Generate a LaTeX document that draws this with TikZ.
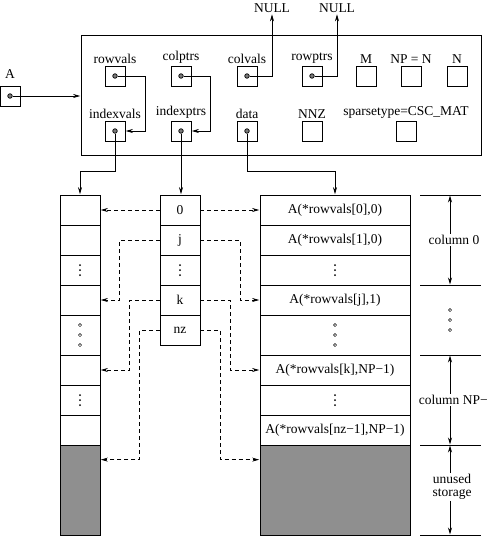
\documentclass[tikz,border=0pt]{standalone}
\usepackage{fontspec}
\setmainfont{Liberation Serif}
\usetikzlibrary{arrows.meta,positioning}
\definecolor{unusedgray}{HTML}{8F8F8F}
\definecolor{dotgray}{HTML}{7A7A7A}

\tikzset{
  txt/.style={font=\fontsize{13.5}{14}\selectfont, inner sep=1pt},
  field/.style={draw, minimum size=20pt, inner sep=0pt},
  ptrdot/.style={draw, fill=dotgray, circle, inner sep=0pt, minimum size=4.5pt},
  slot/.style={draw, inner sep=0pt, font=\fontsize{13.5}{14}\selectfont},
  ptr/.style={-{Stealth[length=7pt,width=4pt]}, shorten >=0.5pt},
  dptr/.style={ptr, dash pattern=on 4pt off 3pt},
}
\newcommand{\ringdots}[1]{\foreach \dy in {-10,0,10} {\draw[line width=0.5pt] (#1) ++(0,\dy) circle (1.6pt);}}
\newcommand{\stackdots}[1]{\foreach \dy in {-5,0,5} {\fill (#1) ++(0,\dy) circle (1pt);}}

\begin{document}
\begin{tikzpicture}[x=1pt, y=-1pt, line width=0.7pt]
  \useasboundingbox (0,0) rectangle (489,536);

  % Matrix header
  \node[draw, minimum width=400pt, minimum height=120pt, inner sep=0pt] (smat) at (281,95) {};

  % Header fields
  \foreach \nm/\x/\y/\lab in {rowvals/115/76/rowvals, colptrs/181/76/colptrs, colvals/247/76/colvals,
      rowptrs/312/76/rowptrs, M/366/76/M, NP/411/76/{NP = N}, N/457/76/N,
      indexvals/115/131/indexvals, indexptrs/181/131/indexptrs, data/247/131/data,
      NNZ/312/131/NNZ, sparsetype/406/131/{sparsetype=CSC\_MAT}} {
    \node[field] (\nm) at (\x,\y) {};
    \node[txt, above=1pt of \nm] (\nm-lab) {\lab};
  }

  % Pointer fields
  \foreach \nm in {rowvals,colptrs,colvals,rowptrs,indexvals,indexptrs,data}
    \node[ptrdot] (\nm-dot) at (\nm) {};

  % Handle A
  \node[field] (A) at (10,96) {};
  \node[txt, above=6pt of A] (A-lab) {A};
  \node[ptrdot] (A-dot) at (A) {};
  \draw[ptr] (A-dot) -- (A-dot -| smat.west);

  % NULL pointers
  \node[txt] (null1) at (272,8) {NULL};
  \node[txt] (null2) at (337,8) {NULL};
  \draw[ptr] (colvals-dot) -| (null1.south);
  \draw[ptr] (rowptrs-dot) -| (null2.south);

  % Links inside the header
  \draw[ptr] (rowvals-dot) -- ++(30,0) |- (indexvals.east);
  \draw[ptr] (colptrs-dot) -- ++(29,0) |- (indexptrs.east);

  % indexvals array
  \foreach \i/\y/\h in {1/210/30pt, 2/240/30pt, 3/270/30pt, 4/300/30pt,
      5/335/40pt, 6/370/30pt, 7/400/30pt, 8/430/30pt}
    \node[slot, minimum width=40pt, minimum height=\h] (iv\i) at (80,\y) {};
  \node[slot, fill=unusedgray, minimum width=40pt, minimum height=90pt] (iv9) at (80,490) {};
  \stackdots{iv3}
  \ringdots{iv5}
  \stackdots{iv7}

  % indexptrs array
  \foreach \i/\y/\lab in {1/210/0, 2/240/j, 3/270/{}, 4/300/k, 5/330/nz}
    \node[slot, minimum width=40pt, minimum height=30pt] (ip\i) at (180,\y) {\lab};
  \stackdots{ip3}

  % data array
  \foreach \i/\y/\h/\lab in {1/210/30pt/{A(*rowvals[0],0)}, 2/240/30pt/{A(*rowvals[1],0)},
      3/270/30pt/{}, 4/300/30pt/{A(*rowvals[j],1)}, 5/335/40pt/{},
      6/370/30pt/{A(*rowvals[k],NP−1)}, 7/400/30pt/{}, 8/430/30pt/{A(*rowvals[nz−1],NP−1)}}
    \node[slot, minimum width=150pt, minimum height=\h] (dt\i) at (335,\y) {\lab};
  \node[slot, fill=unusedgray, minimum width=150pt, minimum height=90pt] (dt9) at (335,490) {};
  \stackdots{dt3}
  \ringdots{dt5}
  \stackdots{dt7}

  % Pointers to the arrays
  \draw[ptr] (indexvals-dot) -- ++(0,40) -| (iv1.north);
  \draw[ptr] (indexptrs-dot) -- (indexptrs-dot |- ip1.north);
  \draw[ptr] (data-dot) -- ++(0,40) -| (dt1.north);

  % Column starts
  \draw[dptr] (ip1.west) -- (ip1.west -| iv1.east);
  \draw[dptr] (ip1.east) -- (ip1.east -| dt1.west);
  \draw[dptr] (ip2.west) -- ++(-40,0) |- (iv4.east);
  \draw[dptr] (ip2.east) -- ++(40,0) |- (dt4.west);
  \draw[dptr] (ip4.west) -- ++(-30,0) |- (iv6.east);
  \draw[dptr] (ip4.east) -- ++(30,0) |- (dt6.west);
  \draw[dptr] (ip5.west) -- ++(-20,0) |- ([yshift=-15pt]iv9.north east);
  \draw[dptr] (ip5.east) -- ++(20,0) |- ([yshift=-15pt]dt9.north west);

  % Column brackets
  \foreach \k/\y in {1/195, 2/285, 3/355, 4/445, 5/535} {
    \coordinate (tick\k) at (450,\y);
    \draw (420,\y) -- (481,\y);
  }
  \node[txt] (col0) at (454,240) {column 0};
  \draw[ptr] (col0.north -| tick1) -- (tick1);
  \draw[ptr] (col0.south -| tick1) -- (tick2);
  \coordinate (between) at (450,320);
  \ringdots{between}
  \node[txt, anchor=east] (colnp) at (489,400) {column NP−};
  \draw[ptr] (colnp.north -| tick3) -- (tick3);
  \draw[ptr] (colnp.south -| tick3) -- (tick4);
  \node[txt, align=center, font=\fontsize{13.5}{13}\selectfont] (unused) at (452,487) {unused\\storage};
  \draw[ptr] (unused.north -| tick4) -- (tick4);
  \draw[ptr] (unused.south -| tick4) -- (tick5);
\end{tikzpicture}
\end{document}
